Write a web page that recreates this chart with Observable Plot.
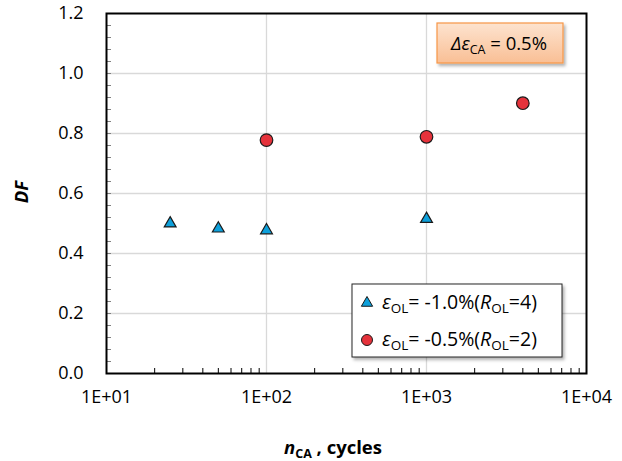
<!DOCTYPE html>
<html><head><meta charset="utf-8">
<script src="https://cdn.jsdelivr.net/npm/d3@7"></script>
<script src="https://cdn.jsdelivr.net/npm/@observablehq/plot@0.6"></script>
<style>body{margin:0;background:#fff}</style>
</head><body><div id="chart"></div>
<script>
// Data
const triX = [25, 50, 100, 1000];
const triY = [0.500, 0.483, 0.477, 0.515];
const cirX = [100, 1000, 4000];
const cirY = [0.778, 0.789, 0.901];
const xTicks = [10, 100, 1000, 10000];
const xTickLabels = ["1E+01", "1E+02", "1E+03", "1E+04"];
const yTicks = [0, 0.2, 0.4, 0.6, 0.8, 1.0, 1.2];
const yTickLabels = ["0.0", "0.2", "0.4", "0.6", "0.8", "1.0", "1.2"];
const xMinor = [10, 100, 1000].flatMap(d => [2,3,4,5,6,7,8,9].map(k => d * k));
const yMinor = d3.range(0, 31).map(i => +(i * 0.04).toFixed(2));

const triangles = triX.map((x, i) => ({x, y: triY[i]}));
const circles = cirX.map((x, i) => ({x, y: cirY[i]}));

const FONT = "Open Sans";
const W = 622, H = 461, ML = 106, MR = 36, MT = 13, MB = 88;

const chart = Plot.plot({
  width: W, height: H,
  marginLeft: ML, marginRight: MR, marginTop: MT, marginBottom: MB,
  style: {fontFamily: FONT, fontSize: "18px", color: "#000", background: "#fff"},
  x: {type: "log", domain: [10, 10000]},
  y: {domain: [0, 1.2]},
  marks: [
    Plot.gridY(yTicks.slice(1, -1), {stroke: "#d9d9d9", strokeOpacity: 1, strokeWidth: 1.3}),
    Plot.gridX([100, 1000], {stroke: "#d9d9d9", strokeOpacity: 1, strokeWidth: 1.3}),
    Plot.axisY(yMinor, {tickSize: -5, text: null, label: null, stroke: "#7f7f7f", strokeWidth: 1}),
    Plot.axisY(yTicks, {tickSize: 0, tickPadding: 23, tickFormat: d => yTickLabels[yTicks.indexOf(d)], label: null, fontSize: 18, fill: "#000"}),
    Plot.axisX(xMinor, {tickSize: -5, text: null, label: null, stroke: "#000", strokeWidth: 1}),
    Plot.axisX(xTicks, {tickSize: 0, tickPadding: 17, tickFormat: d => xTickLabels[xTicks.indexOf(d)], label: null, fontSize: 18, fill: "#000"}),
    Plot.frame({stroke: "#000", strokeWidth: 2}),
    Plot.dot(circles, {x: "x", y: "y", r: 6.3, fill: "#e5323b", stroke: "#1a1a1a", strokeWidth: 1.2}),
    Plot.dot(triangles, {x: "x", y: "y", symbol: "triangle", r: 4.4, fill: "#0da0db", stroke: "#1a1a1a", strokeWidth: 1.2})
  ]
});
document.getElementById("chart").appendChild(chart);

const svg = d3.select(chart);
const defs = svg.append("defs");
const f = defs.append("filter").attr("id", "shadow").attr("x", "-10%").attr("y", "-10%").attr("width", "130%").attr("height", "140%");
f.append("feDropShadow").attr("dx", 2).attr("dy", 2.5).attr("stdDeviation", 1.8).attr("flood-color", "#000").attr("flood-opacity", 0.3);
const g = defs.append("linearGradient").attr("id", "peach").attr("x1", 0).attr("y1", 0).attr("x2", 0).attr("y2", 1);
g.append("stop").attr("offset", "0%").attr("stop-color", "#fde3cf");
g.append("stop").attr("offset", "100%").attr("stop-color", "#f9bf95");

// Annotation box
const ann = svg.append("g").attr("text-anchor", "start");
ann.append("rect").attr("x", 437).attr("y", 23).attr("width", 126).attr("height", 40)
  .attr("fill", "url(#peach)").attr("stroke", "#f79646").attr("stroke-width", 1.2).attr("filter", "url(#shadow)");
const at = ann.append("text").attr("x", 499).attr("y", 50).attr("text-anchor", "middle")
  .attr("font-family", FONT).attr("font-size", 18.5).attr("fill", "#000");
at.append("tspan").attr("font-style", "italic").text("Δε");
at.append("tspan").attr("font-size", 12.5).attr("dy", 4).text("CA");
at.append("tspan").attr("dy", -4).text(" = 0.5%");

// Legend box
const leg = svg.append("g").attr("text-anchor", "start");
leg.append("rect").attr("x", 352).attr("y", 284).attr("width", 210).attr("height", 73)
  .attr("fill", "#fff").attr("stroke", "#262626").attr("stroke-width", 1).attr("filter", "url(#shadow)");
const rows = [
  {sym: "triangle", fill: "#0da0db", a: "= -1.0%(", b: "=4)", y: 303},
  {sym: "circle", fill: "#e5323b", a: "= -0.5%(", b: "=2)", y: 340}
];
rows.forEach(r => {
  const p = d3.symbol().type(r.sym === "triangle" ? d3.symbolTriangle : d3.symbolCircle).size(r.sym === "triangle" ? 55 : 95);
  leg.append("path").attr("d", p()).attr("transform", `translate(367,${r.y})`)
    .attr("fill", r.fill).attr("stroke", "#1a1a1a").attr("stroke-width", 1);
  const t = leg.append("text").attr("x", 382).attr("y", r.y + 6).attr("text-anchor", "start")
    .attr("font-family", FONT).attr("font-size", 19.5).attr("fill", "#000");
  t.append("tspan").attr("font-style", "italic").text("ε");
  t.append("tspan").attr("font-size", 13.5).attr("dy", 4).text("OL");
  t.append("tspan").attr("dy", -4).text(r.a);
  t.append("tspan").attr("font-style", "italic").text("R");
  t.append("tspan").attr("font-size", 13.5).attr("dy", 4).text("OL");
  t.append("tspan").attr("dy", -4).text(r.b);
});

// Axis titles
const xt = svg.append("text").attr("x", 333).attr("y", 454).attr("text-anchor", "middle")
  .attr("font-family", FONT).attr("font-size", 18.5).attr("font-weight", "bold").attr("fill", "#000");
xt.append("tspan").attr("font-style", "italic").text("n");
xt.append("tspan").attr("font-size", 12.5).attr("dy", 4).text("CA");
xt.append("tspan").attr("dy", -4).text(" , cycles");

svg.append("text").attr("transform", "translate(28,192) rotate(-90)").attr("text-anchor", "middle")
  .attr("font-family", FONT).attr("font-size", 18.5).attr("font-weight", "bold").attr("font-style", "italic")
  .attr("fill", "#000").text("DF");
</script>
</body></html>
